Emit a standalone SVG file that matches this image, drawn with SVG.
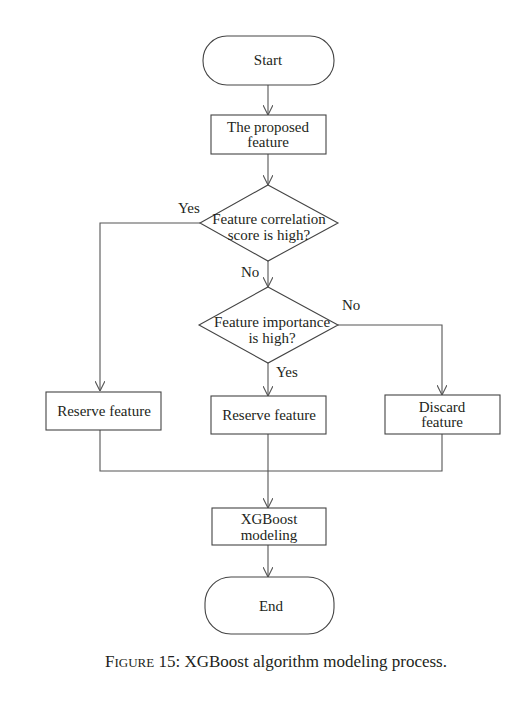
<svg xmlns="http://www.w3.org/2000/svg" width="523" height="702" viewBox="0 0 523 702">
<style>
.n{fill:#fff;stroke:#444;stroke-width:1.1}
.t{font-family:"Liberation Serif",serif;font-size:15px;fill:#231f20;text-anchor:middle}
.l{font-family:"Liberation Serif",serif;font-size:15px;fill:#231f20}
.c{fill:none;stroke:#555;stroke-width:1.1}
</style>
<defs>
<marker id="a" viewBox="0 0 10 10" refX="10" refY="5" markerWidth="10" markerHeight="10" markerUnits="userSpaceOnUse" orient="auto">
<path d="M0,0 L10,5 L0,10" fill="none" stroke="#555" stroke-width="1.1"/>
</marker>
</defs>
<rect width="523" height="702" fill="#fff"/>
<g id="connectors">
<path class="c" d="M268,85 V115" marker-end="url(#a)"/>
<path class="c" d="M268,154 V185" marker-end="url(#a)"/>
<path class="c" d="M200,223 H100 V391" marker-end="url(#a)"/>
<path class="c" d="M268,261 V287" marker-end="url(#a)"/>
<path class="c" d="M338,325 H442 V395" marker-end="url(#a)"/>
<path class="c" d="M268,363 V396" marker-end="url(#a)"/>
<path class="c" d="M100,430 V471 H442 V434"/>
<path class="c" d="M268,434 V508" marker-end="url(#a)"/>
<path class="c" d="M268,545 V577" marker-end="url(#a)"/>
<text class="l" x="178" y="213">Yes</text>
<text class="l" x="241" y="277">No</text>
<text class="l" x="342" y="310">No</text>
<text class="l" x="276" y="377">Yes</text>
</g>
<g id="start">
<rect class="n" x="203" y="36" width="131" height="49" rx="24"/>
<text class="t" x="268" y="65">Start</text>
</g>
<g id="proposed">
<rect class="n" x="211" y="115" width="115" height="39"/>
<text class="t" x="268" y="132">The proposed</text>
<text class="t" x="268" y="147">feature</text>
</g>
<g id="decision1">
<polygon class="n" points="268,185 338,223 268,261 200,223"/>
<text class="t" x="269" y="224" font-size="13.5">Feature correlation</text>
<text class="t" x="269" y="240" font-size="13.5">score is high?</text>
</g>
<g id="decision2">
<polygon class="n" points="268,287 338,325 268,363 199,325"/>
<text class="t" x="272" y="327" font-size="13.5">Feature importance</text>
<text class="t" x="272" y="343" font-size="13.5">is high?</text>
</g>
<g id="reserve-left">
<rect class="n" x="46" y="392" width="115" height="38"/>
<text class="t" x="104" y="416">Reserve feature</text>
</g>
<g id="reserve-mid">
<rect class="n" x="211" y="396" width="115" height="38"/>
<text class="t" x="269" y="420">Reserve feature</text>
</g>
<g id="discard">
<rect class="n" x="385" y="395" width="115" height="39"/>
<text class="t" x="442" y="412">Discard</text>
<text class="t" x="442" y="427">feature</text>
</g>
<g id="xgboost">
<rect class="n" x="212" y="508" width="114" height="37"/>
<text class="t" x="269" y="524">XGBoost</text>
<text class="t" x="269" y="540">modeling</text>
</g>
<g id="end">
<rect class="n" x="205" y="577" width="129" height="57" rx="26"/>
<text class="t" x="271" y="611">End</text>
</g>
<text x="276" y="667" font-family="Liberation Serif, serif" font-size="17" fill="#231f20" text-anchor="middle">F<tspan font-size="13">IGURE</tspan> 15: XGBoost algorithm modeling process.</text>
</svg>
